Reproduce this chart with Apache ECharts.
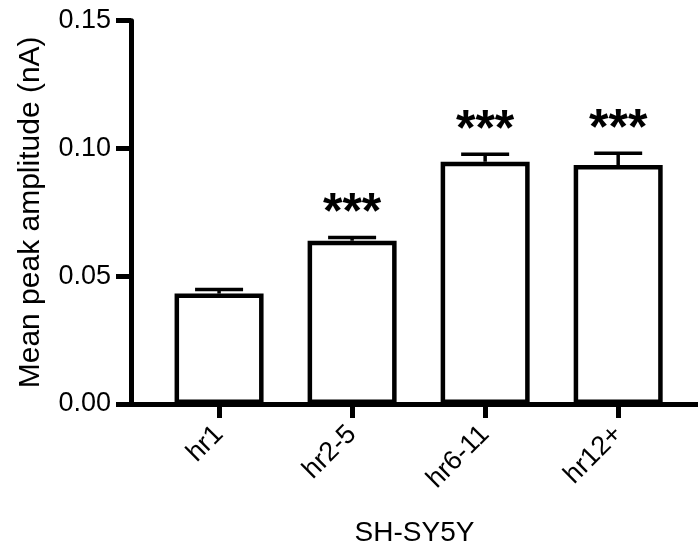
<!DOCTYPE html>
<html>
<head>
<meta charset="utf-8">
<script src="https://cdn.jsdelivr.net/npm/echarts@6/dist/echarts.min.js"></script>
<style>html,body{margin:0;padding:0;background:#fff}#c{width:698px;height:554px}</style>
</head>
<body>
<div id="c"></div>
<script>
const categories = ['hr1', 'hr2-5', 'hr6-11', 'hr12+'];
const meanValues = [0.0432, 0.0639, 0.0948, 0.0935];
const errorTops = [0.0448, 0.0652, 0.0977, 0.0981];
const significance = ['', '***', '***', '***'];
const yTicks = [0, 0.05, 0.10, 0.15];

const FONT = '"Liberation Sans", Arial, Helvetica, sans-serif';
const chart = echarts.init(document.getElementById('c'), null, {renderer: 'canvas'});
const catIdx = categories.map((c, i) => i);

const option = {
  backgroundColor: '#fff',
  animation: false,
  grid: {left: 131, right: 0, top: 20.7, bottom: 150, containLabel: false},
  xAxis: {
    type: 'value', min: -0.662, max: 3.6,
    name: 'SH-SY5Y', nameLocation: 'middle', nameGap: 115,
    nameTextStyle: {fontSize: 28, color: '#000', fontFamily: FONT},
    splitLine: {show: false},
    axisLine: {show: true, onZero: false, lineStyle: {color: '#000', width: 5}},
    axisTick: {show: true, customValues: catIdx, length: 14, lineStyle: {color: '#000', width: 5}},
    axisLabel: {customValues: catIdx, rotate: 45, margin: 26, fontSize: 27, color: '#000', fontFamily: FONT,
      formatter: v => categories[Math.round(v)]}
  },
  yAxis: {
    type: 'value', min: 0, max: 0.15, interval: 0.05,
    name: 'Mean peak amplitude (nA)', nameLocation: 'middle', nameRotate: 90, nameGap: 85,
    nameTextStyle: {fontSize: 30, color: '#000', fontFamily: FONT},
    splitLine: {show: false},
    axisLine: {show: true, onZero: false, lineStyle: {color: '#000', width: 5}},
    axisTick: {show: true, length: 15, lineStyle: {color: '#000', width: 5}},
    axisLabel: {margin: 20, fontSize: 27, color: '#000', fontFamily: FONT, formatter: v => v.toFixed(2)}
  },
  series: [
    {
      type: 'custom',
      z: 1,
      data: catIdx.map(i => [i, meanValues[i], errorTops[i]]),
      renderItem: function (params, api) {
        const x = api.value(0);
        const top = api.coord([x, api.value(1)]);
        const err = api.coord([x, api.value(2)]);
        const capHalf = 24;
        return {
          type: 'group',
          children: [
            {type: 'line', shape: {x1: top[0], y1: top[1], x2: err[0], y2: err[1]}, style: {stroke: '#000', lineWidth: 3.5}},
            {type: 'line', shape: {x1: err[0] - capHalf, y1: err[1], x2: err[0] + capHalf, y2: err[1]}, style: {stroke: '#000', lineWidth: 3.5}}
          ]
        };
      }
    },
    {
      type: 'bar',
      z: 2,
      barWidth: 89,
      data: catIdx.map(i => [i, meanValues[i]]),
      itemStyle: {color: '#fff', borderColor: '#000', borderWidth: 4.5}
    },
    {
      type: 'custom',
      z: 3,
      data: catIdx.map(i => [i, errorTops[i]]),
      renderItem: function (params, api) {
        const i = params.dataIndex;
        const p = api.coord([api.value(0), api.value(1)]);
        return {
          type: 'text',
          style: {text: significance[i], x: p[0], y: p[1] - 23, align: 'center', verticalAlign: 'middle',
            fontSize: 50, fontWeight: 'bold', fill: '#000', fontFamily: FONT}
        };
      }
    }
  ]
};
chart.setOption(option);
</script>
</body>
</html>
